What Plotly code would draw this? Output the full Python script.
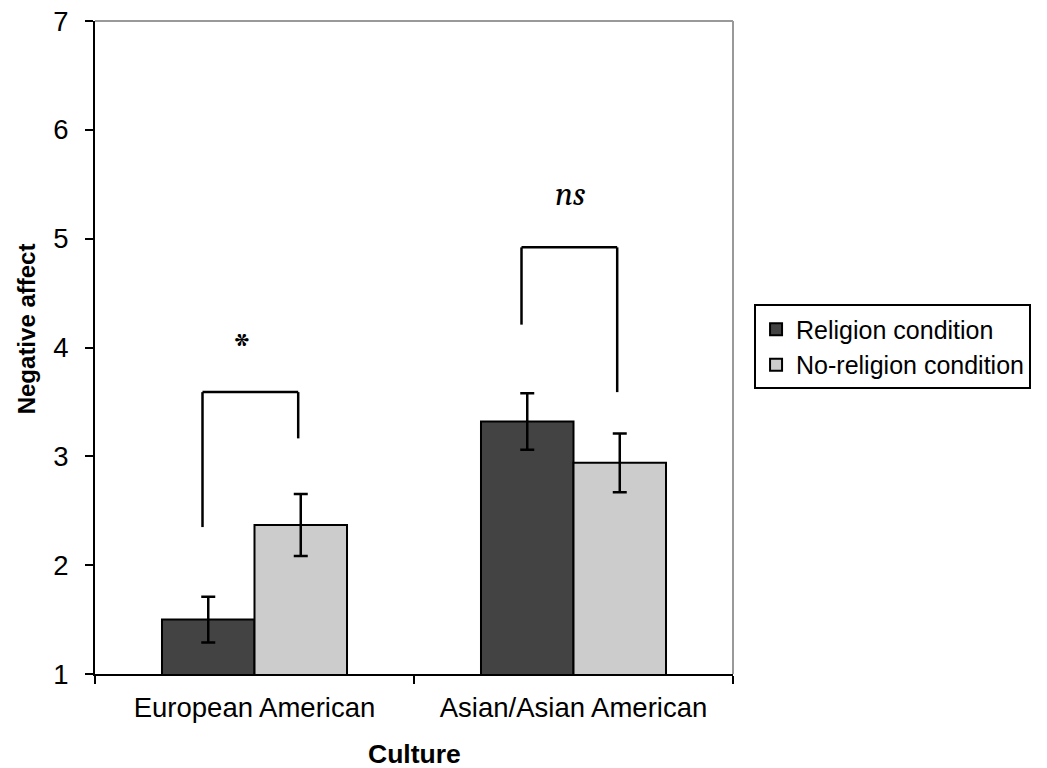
import plotly.graph_objects as go

# Group means and standard errors
cultures = ["European American", "Asian/Asian American"]
religion_mean = [1.50, 3.32]
religion_se = [0.21, 0.26]
noreligion_mean = [2.37, 2.94]
noreligion_se = [0.285, 0.27]

# Significance brackets: top level and the bottoms of the left/right legs
bracket_top = [3.59, 4.92]
bracket_left_bottom = [2.35, 4.21]
bracket_right_bottom = [3.165, 3.59]
sig_labels = ["*", "<i>ns</i>"]
sig_label_y = [3.98, 5.415]
sig_label_dx = [-0.04, -0.01]
sig_label_size = [46, 34]

AXIS_FONT = "Arial, Liberation Sans, sans-serif"
SERIF_FONT = "Cambria, Liberation Serif, serif"

fig = go.Figure()
fig.add_trace(go.Bar(
    x=cultures, y=religion_mean, name="Religion condition",
    marker=dict(color="#434343", line=dict(color="black", width=2)),
    error_y=dict(type="data", array=religion_se, color="black", thickness=2.5, width=7),
))
fig.add_trace(go.Bar(
    x=cultures, y=noreligion_mean, name="No-religion condition",
    marker=dict(color="#cccccc", line=dict(color="black", width=2)),
    error_y=dict(type="data", array=noreligion_se, color="black", thickness=2.5, width=7),
))

shapes = []
line_style = dict(color="black", width=2.5)
left_off, right_off = -0.163, 0.137
for i in range(len(cultures)):
    xl, xr = i + left_off, i + right_off
    shapes.append(dict(type="line", xref="x", yref="y", x0=xl, x1=xl,
                       y0=bracket_left_bottom[i], y1=bracket_top[i], line=line_style))
    shapes.append(dict(type="line", xref="x", yref="y", x0=xl, x1=xr,
                       y0=bracket_top[i], y1=bracket_top[i], line=line_style))
    shapes.append(dict(type="line", xref="x", yref="y", x0=xr, x1=xr,
                       y0=bracket_right_bottom[i], y1=bracket_top[i], line=line_style))

# Light frame on the top and right sides of the plot area
frame = dict(color="#999999", width=2)
shapes.append(dict(type="line", xref="paper", yref="paper", x0=0, x1=1, y0=1, y1=1, line=frame))
shapes.append(dict(type="line", xref="paper", yref="paper", x0=1, x1=1, y0=0, y1=1, line=frame))

annotations = []
for i in range(len(cultures)):
    annotations.append(dict(x=i + sig_label_dx[i], y=sig_label_y[i], xref="x", yref="y",
                            text=sig_labels[i], showarrow=False,
                            xanchor="center", yanchor="middle",
                            font=dict(family=SERIF_FONT, size=sig_label_size[i], color="black")))
annotations.append(dict(x=-0.108, y=0.528, xref="paper", yref="paper", text="<b>Negative affect</b>",
                        textangle=-90, showarrow=False, xanchor="center", yanchor="middle",
                        font=dict(family=AXIS_FONT, size=24, color="black")))
annotations.append(dict(x=0.5, y=-0.123, xref="paper", yref="paper", text="<b>Culture</b>",
                        showarrow=False, xanchor="center", yanchor="middle",
                        font=dict(family=AXIS_FONT, size=26.5, color="black")))

fig.update_layout(
    width=1047, height=768,
    margin=dict(l=95, r=314, t=21, b=94, autoexpand=False),
    plot_bgcolor="white", paper_bgcolor="white",
    barmode="group", bargap=0.42, bargroupgap=0,
    font=dict(family=AXIS_FONT, color="black"),
    shapes=shapes, annotations=annotations,
    legend=dict(x=1.033, y=0.566, xanchor="left", yanchor="top",
                bordercolor="black", borderwidth=2,
                font=dict(family=AXIS_FONT, size=25, color="black"),
                tracegroupgap=0, entrywidth=250, entrywidthmode="pixels"),
    showlegend=True,
)
fig.update_xaxes(
    type="category", range=[-0.5, 1.5], tickson="boundaries",
    showline=True, linecolor="black", linewidth=2,
    ticks="outside", ticklen=8, tickwidth=2, tickcolor="black",
    tickfont=dict(family=AXIS_FONT, size=27.5, color="black"),
    ticklabelstandoff=8, automargin=False,
    showgrid=False, zeroline=False,
)
fig.update_yaxes(
    range=[1, 7], tickvals=[1, 2, 3, 4, 5, 6, 7],
    showline=True, linecolor="black", linewidth=2,
    ticks="outside", ticklen=8, tickwidth=2, tickcolor="black",
    tickfont=dict(family=AXIS_FONT, size=27.5, color="black"),
    ticklabelstandoff=11, automargin=False,
    showgrid=False, zeroline=False,
)

fig.write_html("out.html")
